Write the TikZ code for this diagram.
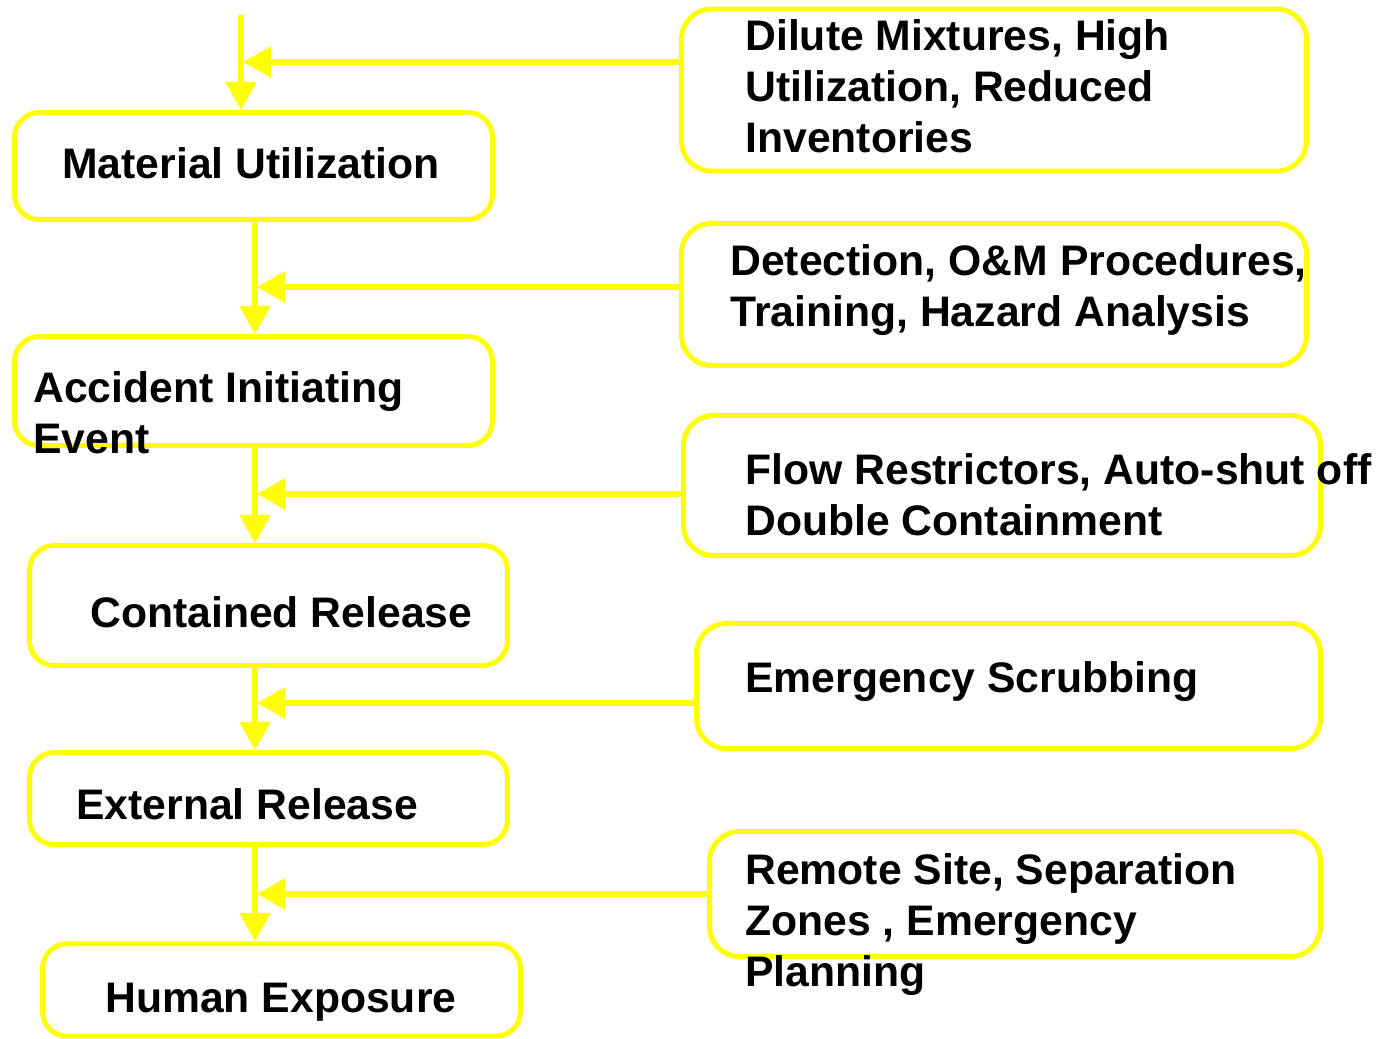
\documentclass[tikz,border=0pt]{standalone}
\usepackage{fontspec}
\setmainfont{Liberation Sans}
\usetikzlibrary{arrows.meta}
\definecolor{hazard}{RGB}{255,255,0}

\begin{document}
\begin{tikzpicture}[x=0.02cm, y=-0.02cm,
    stage/.style={draw=hazard, line width=2.8pt, rounded corners=14pt, minimum width=9.56cm},
    guard/.style={draw=hazard, line width=2.8pt, rounded corners=17pt},
    label/.style={anchor=base west, inner sep=0pt, align=left, font=\fontsize{24.3}{29}\selectfont\bfseries},
    flow/.style={draw=hazard, line width=3.1pt, -{Triangle[length=16pt, width=17pt]}}]
    \useasboundingbox (0,0) rectangle (1381,1038);

    \node[stage, minimum height=2.14cm] (MU) at (253.5,166) {};
    \node[stage, minimum height=2.18cm] (AIE) at (253.5,391) {};
    \node[stage, minimum height=2.40cm] (CR) at (268.5,605.5) {};
    \node[stage, minimum height=1.84cm] (ER) at (268.5,798.5) {};
    \node[stage, minimum height=1.85cm] (HE) at (281.5,990) {};

    \node[guard, minimum width=12.50cm, minimum height=3.24cm] (G1) at (994,90) {};
    \node[guard, minimum width=12.50cm, minimum height=2.84cm] (G2) at (994,294.5) {};
    \node[guard, minimum width=12.74cm, minimum height=2.80cm] (G3) at (1002,485.5) {};
    \node[guard, minimum width=12.48cm, minimum height=2.50cm] (G4) at (1008.5,686) {};
    \node[guard, minimum width=12.22cm, minimum height=2.50cm] (G5) at (1015,894) {};

    % base anchor sits on the last line
    \node[label] (MUt) at (62,178) {Material Utilization};
    \node[label] (AIEt) at (33,453) {Accident Initiating\\Event};
    \node[label] (CRt) at (90,627) {Contained Release};
    \node[label] (ERt) at (76,819) {External Release};
    \node[label] (HEt) at (105,1012) {Human Exposure};

    \node[label] (G1t) at (745,152) {Dilute Mixtures, High\\Utilization, Reduced\\Inventories};
    \node[label] (G2t) at (730,326) {Detection, O\&M Procedures,\\Training, Hazard Analysis};
    \node[label] (G3t) at (745,535) {Flow Restrictors, Auto-shut off\\Double Containment};
    \node[label] (G4t) at (745,692) {Emergency Scrubbing};
    \node[label] (G5t) at (745,986) {Remote Site, Separation\\Zones , Emergency\\Planning};

    \coordinate (in) at (241,15);
    \coordinate (spine) at (255,0);
    \coordinate (f1) at (243,62);
    \coordinate (f2) at (257,287);
    \coordinate (f3) at (257,494);
    \coordinate (f4) at (257,703);
    \coordinate (f5) at (257,894);

    \path[flow] (in) -- (MU.north -| in);
    \path[flow] (MU.south -| spine) -- (AIE.north -| spine);
    \path[flow] (AIE.south -| spine) -- (CR.north -| spine);
    \path[flow] (CR.south -| spine) -- (ER.north -| spine);
    \path[flow] (ER.south -| spine) -- (HE.north -| spine);

    \path[flow] (G1.west |- f1) -- (f1);
    \path[flow] (G2.west |- f2) -- (f2);
    \path[flow] (G3.west |- f3) -- (f3);
    \path[flow] (G4.west |- f4) -- (f4);
    \path[flow] (G5.west |- f5) -- (f5);
\end{tikzpicture}
\end{document}
